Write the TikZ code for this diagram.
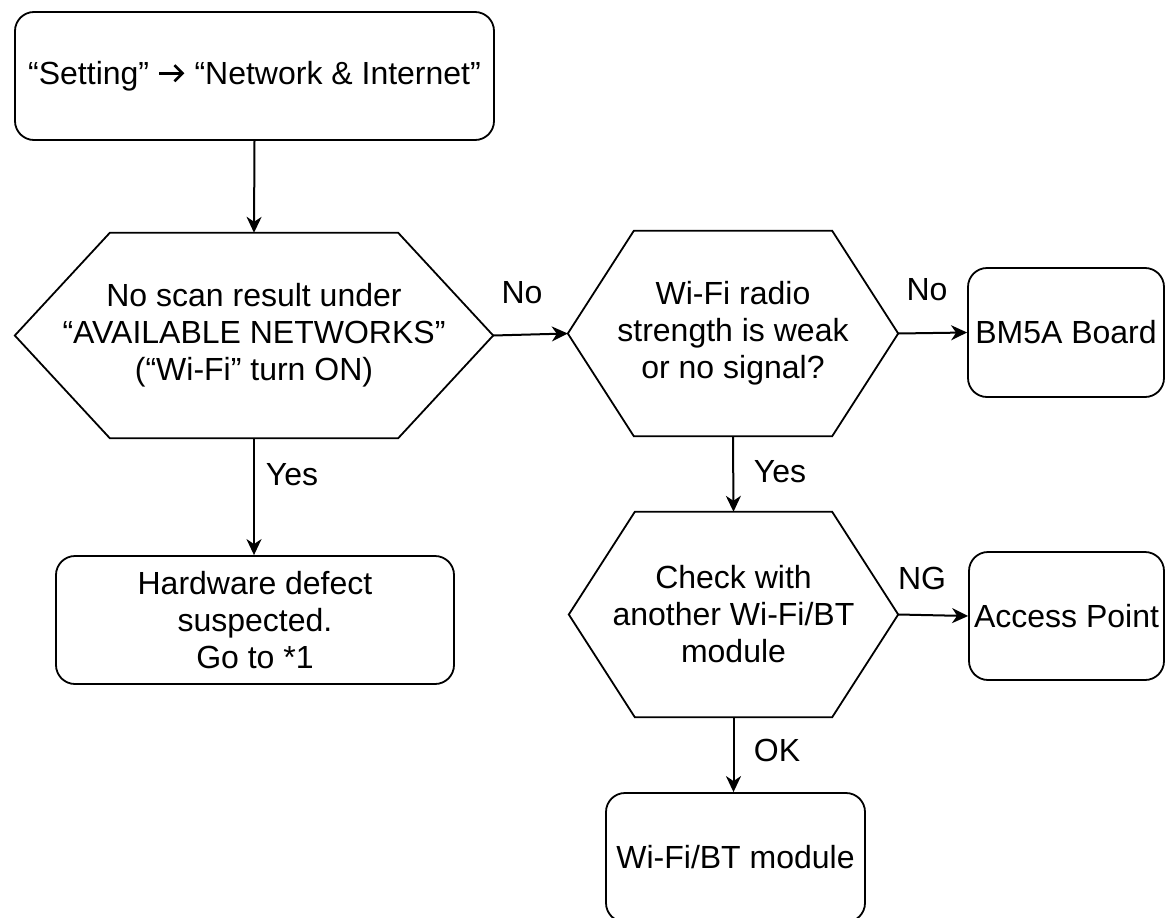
\documentclass[tikz,border=0pt]{standalone}
\usepackage{fontspec}
\setmainfont{Liberation Sans}
\usetikzlibrary{arrows.meta}
\newcommand{\myarrow}{\tikz[baseline=0pt,x=1pt,y=1pt]\draw[line width=2.6pt,-{Straight Barb[length=8pt,width=16pt,line width=2.6pt]}] (0,11) -- (25,11);}
\tikzset{
  txt/.style={font=\fontsize{32}{37}\selectfont, align=center, inner sep=0pt},
  rbox/.style={txt, draw=black, line width=1.8pt, rounded corners=19pt},
  hexbox/.style={txt, draw=none},
  border/.style={draw=black, line width=1.8pt, line join=miter},
  conn/.style={draw=black, line width=2pt, -{Stealth[length=16pt,width=15pt,inset=5pt]}},
  lbl/.style={txt}
}
\begin{document}
\begin{tikzpicture}[x=1pt,y=-1pt]
\useasboundingbox (0,0) rectangle (1165,918);
% boxes
\node[rbox, minimum width=479pt, minimum height=128pt] (top) at (254.5,76) {“Setting” \myarrow{} “Network \& Internet”};
\node[hexbox, minimum width=478pt, minimum height=205pt] (h1) at (254,335.5) {No scan result under\\“AVAILABLE NETWORKS”\\(“Wi-Fi” turn ON)};
\node[hexbox, minimum width=330pt, minimum height=205pt] (h2) at (733,333.5) {Wi-Fi radio\\strength is weak\\or no signal?};
\node[hexbox, minimum width=329pt, minimum height=205pt] (h3) at (733.5,614.5) {Check with\\another Wi-Fi/BT\\module};
\node[rbox, minimum width=196pt, minimum height=129pt] (bm) at (1066,332.5) {BM5A Board};
\node[rbox, minimum width=195pt, minimum height=128pt] (ap) at (1066.5,616) {Access Point};
\node[rbox, minimum width=398pt, minimum height=128pt] (hw) at (255,620) {Hardware defect\\suspected.\\Go to *1};
\node[rbox, minimum width=259pt, minimum height=129pt] (wb) at (735.5,857.5) {Wi-Fi/BT module};
% hexagon outlines
\draw[border] (h1.west) -- ([xshift=95pt]h1.north west) -- ([xshift=-95pt]h1.north east) -- (h1.east) -- ([xshift=-95pt]h1.south east) -- ([xshift=95pt]h1.south west) -- cycle;
\draw[border] (h2.west) -- ([xshift=66pt]h2.north west) -- ([xshift=-66pt]h2.north east) -- (h2.east) -- ([xshift=-66pt]h2.south east) -- ([xshift=66pt]h2.south west) -- cycle;
\draw[border] (h3.west) -- ([xshift=66pt]h3.north west) -- ([xshift=-66pt]h3.north east) -- (h3.east) -- ([xshift=-66pt]h3.south east) -- ([xshift=66pt]h3.south west) -- cycle;
% connectors
\draw[conn] (top.south) -- (h1.north);
\draw[conn] (h1.east) -- (h2.west);
\draw[conn] (h2.east) -- (bm.west);
\draw[conn] (h2.south) -- (h3.north);
\draw[conn] (h3.east) -- (ap.west);
\draw[conn] (h3.south) -- (h3.south |- wb.north);
\draw[conn] (h1.south) -- (h1.south |- hw.north);
% labels
\node[lbl] (lno1) at (522,293) {No};
\node[lbl] (lno2) at (927,290) {No};
\node[lbl] (lyes2) at (780,472) {Yes};
\node[lbl] (lng) at (922,578) {NG};
\node[lbl] (lok) at (777,750) {OK};
\node[lbl] (lyes1) at (292,475) {Yes};
\end{tikzpicture}
\end{document}
